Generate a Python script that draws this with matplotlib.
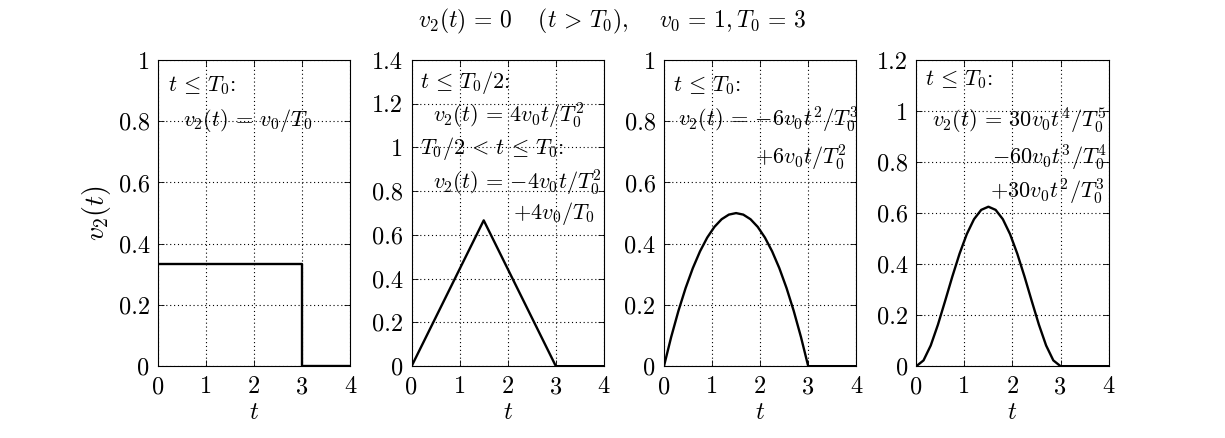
import numpy as np
import matplotlib
matplotlib.use("Agg")
import matplotlib.pyplot as plt
from matplotlib.ticker import FuncFormatter

plt.rcParams["font.family"] = "serif"
plt.rcParams["font.serif"] = ["cmr10", "DejaVu Serif"]
plt.rcParams["mathtext.fontset"] = "cm"
plt.rcParams["axes.formatter.use_mathtext"] = True

# values
t_step = [0, 3, 3, 4]
v_step = [0.3333, 0.3333, 0, 0]

t_tri = [0, 1.5, 3, 4]
v_tri = [0, 0.6667, 0, 0]

t_smooth = [0, 0.15, 0.3, 0.45, 0.6, 0.75, 0.9, 1.05, 1.2, 1.35, 1.5,
            1.65, 1.8, 1.95, 2.1, 2.25, 2.4, 2.55, 2.7, 2.85, 3.0, 4.0]
v_par = [0, 0.095, 0.18, 0.255, 0.32, 0.375, 0.42, 0.455, 0.48, 0.495, 0.5,
         0.495, 0.48, 0.455, 0.42, 0.375, 0.32, 0.255, 0.18, 0.095, 0, 0]
v_quart = [0, 0.0226, 0.081, 0.1626, 0.256, 0.3516, 0.441, 0.5176, 0.576, 0.6126, 0.625,
           0.6126, 0.576, 0.5176, 0.441, 0.3516, 0.256, 0.1626, 0.081, 0.0226, 0, 0]

xticks = [0, 1, 2, 3, 4]
yticks = [
    [0, 0.2, 0.4, 0.6, 0.8, 1],
    [0, 0.2, 0.4, 0.6, 0.8, 1, 1.2, 1.4],
    [0, 0.2, 0.4, 0.6, 0.8, 1],
    [0, 0.2, 0.4, 0.6, 0.8, 1, 1.2],
]

# annotation lines: (x frac, y frac, text)
notes = [
    [(0.052, 0.918, r"$t \,\leq\, T_0$:"),
     (0.13, 0.804, r"$v_2(t) \,=\, v_0/T_0$")],
    [(0.042, 0.925, r"$t \,\leq\, T_0/2$:"),
     (0.109, 0.818, r"$v_2(t) \,=\, 4v_0t/T_0^2$"),
     (0.042, 0.712, r"$T_0/2 \,<\, t \,\leq\, T_0$:"),
     (0.109, 0.598, r"$v_2(t) \,=\, {-4}v_0t/T_0^2$"),
     (0.526, 0.50, r"$+4v_0/T_0$")],
    [(0.047, 0.918, r"$t \,\leq\, T_0$:"),
     (0.073, 0.804, r"$v_2(t) \,=\, {-6}v_0t^2/T_0^3$"),
     (0.474, 0.68, r"$+6v_0t/T_0^2$")],
    [(0.047, 0.935, r"$t \,\leq\, T_0$:"),
     (0.083, 0.804, r"$v_2(t) \,=\, 30v_0t^4/T_0^5$"),
     (0.396, 0.68, r"$-60v_0t^3/T_0^4$"),
     (0.385, 0.569, r"$+30v_0t^2/T_0^3$")],
]

series = [(t_step, v_step), (t_tri, v_tri), (t_smooth, v_par), (t_smooth, v_quart)]

fig = plt.figure(figsize=(12.25, 4.38), dpi=100)
lefts = [0.129, 0.336, 0.542, 0.748]
fmt = FuncFormatter(lambda v, p: "%g" % v)

for i in range(4):
    ax = fig.add_axes([lefts[i], 0.164, 0.157, 0.699])
    t, v = series[i]
    ax.plot(t, v, color="k", lw=1.7)
    ax.set_xlim(0, 4)
    ax.set_ylim(yticks[i][0], yticks[i][-1])
    ax.set_xticks(xticks)
    ax.set_yticks(yticks[i])
    ax.xaxis.set_major_formatter(fmt)
    ax.yaxis.set_major_formatter(fmt)
    ax.tick_params(direction="in", length=4, width=0.6, labelsize=17.5,
                   top=True, right=True)
    ax.tick_params(axis="x", pad=7)
    ax.tick_params(axis="y", pad=6)
    ax.grid(True, color="k", linestyle=(0, (1, 2.5)), linewidth=0.8)
    for s in ax.spines.values():
        s.set_linewidth(0.8)
    ax.set_xlabel(r"$t$", fontsize=18, labelpad=3)
    if i == 0:
        ax.set_ylabel(r"$v_2(t)$", fontsize=20, labelpad=4)
    for x, y, s in notes[i]:
        ax.text(x, y, s, transform=ax.transAxes, fontsize=16, va="center", ha="left")

fig.text(0.5, 0.952,
         r"$v_2(t) \,=\, 0 \quad\; (t \,>\, T_0), \quad\; v_0 \,=\, 1, T_0 \,=\, 3$",
         ha="center", va="center", fontsize=17)

fig.savefig("out.png", dpi=100)
